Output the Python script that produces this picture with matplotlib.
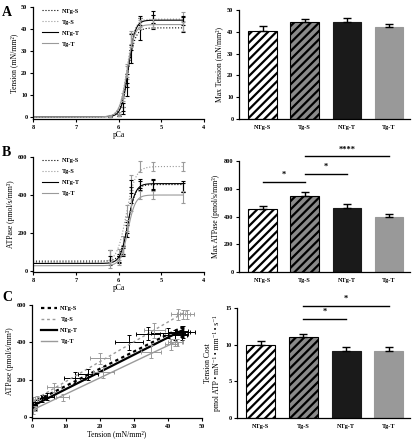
import numpy as np
import matplotlib
matplotlib.use('Agg')
import matplotlib.pyplot as plt

plt.rcParams['font.family'] = ['Liberation Serif', 'DejaVu Serif']
plt.rcParams['font.weight'] = 'bold'
plt.rcParams['hatch.linewidth'] = 1.6
plt.rcParams['axes.linewidth'] = 0.9

groups = ['NTg-S', 'Tg-S', 'NTg-T', 'Tg-T']
grey = '#9a9a9a'

# pCa points (panels A and B)
pca = [6.2, 6.0, 5.9, 5.8, 5.7, 5.5, 5.2, 4.5]

tension_mean = {
    'NTg-S': [0.2, 0.8, 3.0, 12.5, 28.5, 40.0, 44.0, 42.0],
    'Tg-S': [0.3, 1.5, 6.5, 20.0, 36.0, 43.0, 44.5, 45.5],
    'NTg-T': [0.2, 1.0, 4.5, 16.5, 34.0, 44.0, 44.5, 44.0],
    'Tg-T': [0.2, 1.0, 9.0, 21.0, 35.0, 42.0, 42.5, 41.0],
}
tension_sem = {
    'NTg-S': [0.2, 0.4, 1.5, 3.0, 4.0, 5.0, 4.0, 3.5],
    'Tg-S': [0.3, 0.6, 2.0, 3.0, 3.0, 2.0, 2.0, 2.0],
    'NTg-T': [0.2, 0.5, 2.0, 3.0, 3.5, 2.0, 2.0, 2.0],
    'Tg-T': [0.2, 0.5, 2.0, 3.0, 3.0, 2.0, 2.0, 2.0],
}
# Hill fit parameters: base, top, pCa50, nH
tension_fit = {
    'NTg-S': [0, 40.5, 5.78, 5.0],
    'Tg-S': [0, 44.5, 5.80, 5.0],
    'NTg-T': [0, 44.0, 5.77, 5.5],
    'Tg-T': [0, 42.0, 5.80, 5.0],
}

atpase_mean = {
    'NTg-S': [80, 70, 100, 210, 400, 450, 455, 440],
    'Tg-S': [85, 95, 160, 315, 465, 550, 550, 550],
    'NTg-T': [55, 60, 110, 230, 445, 460, 455, 445],
    'Tg-T': [30, 45, 105, 240, 350, 400, 400, 390],
}
atpase_sem = {
    'NTg-S': [30, 20, 20, 30, 40, 25, 25, 25],
    'Tg-S': [25, 20, 25, 30, 40, 30, 25, 25],
    'NTg-T': [25, 20, 20, 30, 35, 25, 30, 30],
    'Tg-T': [15, 15, 20, 30, 35, 20, 20, 30],
}
atpase_fit = {
    'NTg-S': [52, 455, 5.78, 5.0],
    'Tg-S': [45, 550, 5.82, 4.0],
    'NTg-T': [40, 460, 5.78, 5.0],
    'Tg-T': [28, 400, 5.78, 5.0],
}

# panel C: regression intercept, slope
tc_fit = {
    'NTg-S': [75, 9.2],
    'Tg-S': [85, 10.6],
    'NTg-T': [58, 9.2],
    'Tg-T': [37, 8.65],
}

# bar summaries
max_tension = [40.5, 44.5, 44.5, 42.0]
max_tension_sem = [2.3, 1.3, 1.7, 1.8]
max_atpase = [452, 550, 462, 398]
max_atpase_sem = [25, 25, 25, 20]
tension_cost = [9.9, 11.0, 9.2, 9.2]
tension_cost_sem = [0.6, 0.5, 0.5, 0.5]

line_style_ab = {
    'NTg-S': dict(color='black', ls=':', lw=0.8),
    'Tg-S': dict(color=grey, ls=':', lw=0.8),
    'NTg-T': dict(color='black', ls='-', lw=0.8),
    'Tg-T': dict(color=grey, ls='-', lw=0.8),
}
line_style_c = {
    'NTg-S': dict(color='black', ls=(0, (1.5, 1.5)), lw=1.6),
    'Tg-S': dict(color=grey, ls=(0, (2, 2)), lw=1.0),
    'NTg-T': dict(color='black', ls='-', lw=1.6),
    'Tg-T': dict(color=grey, ls='-', lw=1.0),
}
bar_style = [
    dict(color='white', edgecolor='black', hatch='////'),
    dict(color='#8a8a8a', edgecolor='black', hatch='////'),
    dict(color='#1a1a1a', edgecolor='#1a1a1a'),
    dict(color='#999999', edgecolor='#999999'),
]

tick_fs = 4.5
label_fs = 5.5


def hill(p, base, top, p50, n):
    return base + (top - base) / (1 + 10 ** (n * (p - p50)))


def style_axes(ax):
    for s in ['top', 'right']:
        ax.spines[s].set_visible(False)
    ax.tick_params(labelsize=tick_fs, length=2.5, width=0.8, pad=1.5)


def sigmoid_panel(ax, means, sems, fits, ylim, yticks, ylabel):
    p = np.linspace(8, 4.5, 400)
    for g in groups:
        st = line_style_ab[g]
        ax.plot(p, hill(p, *fits[g]), label=g, **st)
        ax.errorbar(pca, means[g], yerr=sems[g], fmt='none', ecolor=st['color'],
                     elinewidth=0.8, capsize=1.5, capthick=0.8)
    ax.set_xlim(8, 4)
    ax.set_xticks([8, 7, 6, 5, 4])
    ax.set_ylim(*ylim)
    ax.set_yticks(yticks)
    ax.set_xlabel('pCa', fontsize=label_fs, labelpad=1)
    ax.set_ylabel(ylabel, fontsize=label_fs, labelpad=2)
    style_axes(ax)
    ax.legend(loc='upper left', bbox_to_anchor=(0.02, 1.04), frameon=False,
              fontsize=4.5, handlelength=2.6, labelspacing=0.9, handletextpad=0.5)


def bar_panel(ax, vals, sems, ylim, yticks, ylabel):
    x = np.arange(len(groups))
    for i in range(len(groups)):
        ax.bar(x[i], vals[i], width=0.68, linewidth=0.8, **bar_style[i])
        ax.errorbar(x[i], vals[i], yerr=[[0], [sems[i]]], fmt='none', ecolor='black',
                    elinewidth=1.0, capsize=3, capthick=1.0)
    ax.set_xlim(-0.56, 3.5)
    ax.set_xticks(x)
    ax.set_xticklabels(groups)
    ax.set_ylim(*ylim)
    ax.set_yticks(yticks)
    ax.set_ylabel(ylabel, fontsize=label_fs, labelpad=3)
    style_axes(ax)
    ax.tick_params(axis='x', length=0, pad=4)


def sig(ax, x1, x2, y, text, dy):
    ax.plot([x1, x2], [y, y], color='black', lw=1.0, clip_on=False)
    ax.text((x1 + x2) / 2, y + dy, text, ha='center', va='bottom', fontsize=6, clip_on=False)


fig = plt.figure(figsize=(4.12, 4.4), dpi=100)
W, H = 412, 440


def add_ax(l, r, t, b):
    return fig.add_axes([l / W, 1 - b / H, (r - l) / W, (b - t) / H])


# A
axA = add_ax(33, 204, 7, 119)
sigmoid_panel(axA, tension_mean, tension_sem, tension_fit, (-1, 50), range(0, 51, 10),
              'Tension (mN/mm²)')
axA2 = add_ax(239, 410, 10, 119)
bar_panel(axA2, max_tension, max_tension_sem, (0, 50), range(0, 51, 10), 'Max Tension (mN/mm²)')

# B
axB = add_ax(33, 204, 157, 272)
sigmoid_panel(axB, atpase_mean, atpase_sem, atpase_fit, (-5, 600), [0, 200, 400, 600],
              'ATPase (pmol/s/mm³)')
axB2 = add_ax(239, 410, 161, 272)
bar_panel(axB2, max_atpase, max_atpase_sem, (0, 800), [0, 200, 400, 600, 800],
          'Max ATPase (pmol/s/mm³)')
sig(axB2, 0, 1, 649, '*', 20)
sig(axB2, 1, 2, 709, '*', 20)
sig(axB2, 1, 3, 834, '****', 20)

# C
axC = add_ax(32, 202, 305, 418)
for g in groups:
    st = line_style_c[g]
    t = np.array(tension_mean[g])
    xs = np.array([0, t.max()])
    b0, b1 = tc_fit[g]
    axC.plot(xs, b0 + b1 * xs, label=g, **st)
    ecol = 'black' if g.startswith('NTg') else grey
    axC.errorbar(tension_mean[g], atpase_mean[g], xerr=tension_sem[g], yerr=atpase_sem[g],
                 fmt='none', ecolor=ecol, elinewidth=0.7, capsize=1.5, capthick=0.7)
axC.set_xlim(0, 50)
axC.set_ylim(-5, 600)
axC.set_xticks(range(0, 51, 10))
axC.set_yticks([0, 200, 400, 600])
axC.set_xlabel('Tension (mN/mm²)', fontsize=label_fs, labelpad=1)
axC.set_ylabel('ATPase (pmol/s/mm³)', fontsize=label_fs, labelpad=2)
style_axes(axC)
axC.legend(loc='upper left', bbox_to_anchor=(0.02, 1.04), frameon=False,
           fontsize=4.5, handlelength=2.6, labelspacing=0.9, handletextpad=0.5)

axC2 = add_ax(237, 410, 308, 418)
bar_panel(axC2, tension_cost, tension_cost_sem, (0, 15), [0, 5, 10, 15],
          'Tension Cost\npmol ATP • mN⁻¹ • mm⁻¹ • s⁻¹')
sig(axC2, 1, 2, 13.5, '*', 0.4)
sig(axC2, 1, 3, 15.3, '*', 0.4)

for lab, y in [('A', 12), ('B', 152), ('C', 297)]:
    fig.text(2 / W, 1 - y / H, lab, fontsize=10, fontweight='bold', va='center', ha='left')

plt.savefig('out.png', dpi=100)
